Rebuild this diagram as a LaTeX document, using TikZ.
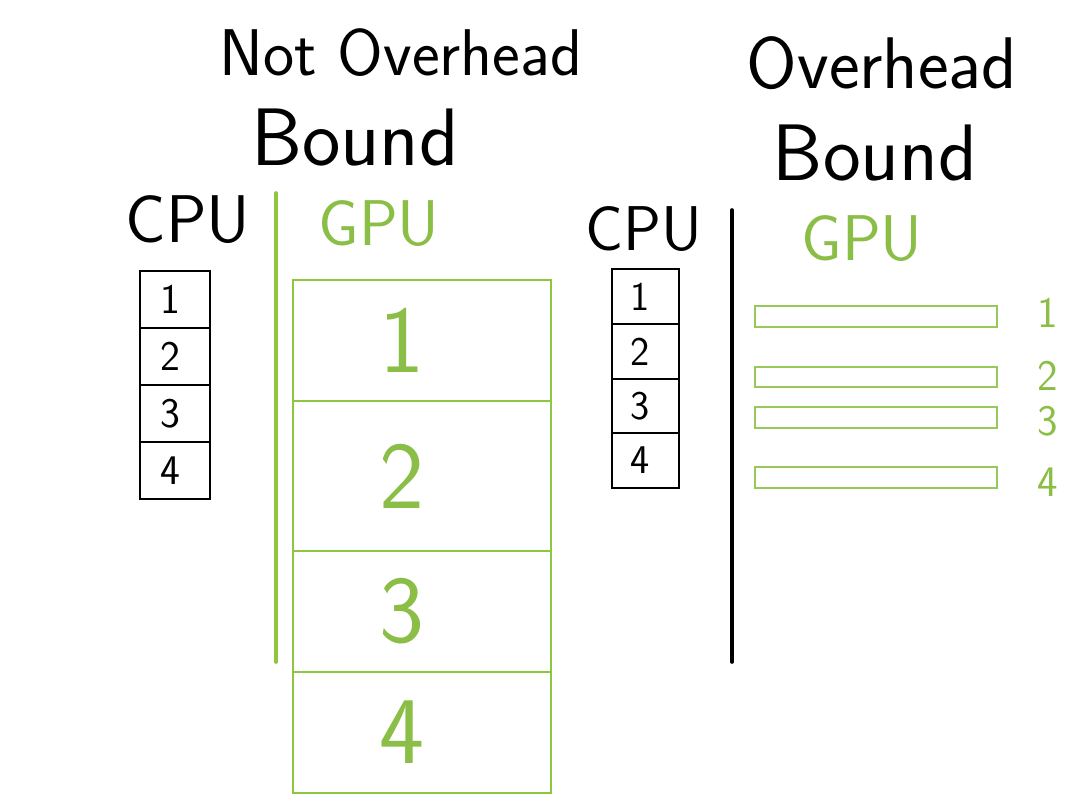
\documentclass[tikz,border=0pt]{standalone}
\usepackage{fontspec}
\usepackage{xcolor}
\definecolor{gpugreen}{RGB}{141,198,63}
\definecolor{gputext}{RGB}{138,190,70}
\definecolor{barline}{RGB}{150,200,90}

\begin{document}
\begin{tikzpicture}[x=0.25mm,y=-0.25mm,
	hand/.style={font=\sffamily\fontsize{#1}{#1}\selectfont, inner sep=0pt, anchor=base},
	cpuline/.style={draw=black, line width=1.3pt},
	gpuline/.style={draw=gpugreen, line width=1.6pt},
	barbox/.style={draw=barline, line width=1.1pt},
	divider/.style={line width=2.6pt, line cap=round}]
	\useasboundingbox (0,0) rectangle (1080,807);

	% headings
	\node[hand=47] (notoh) at (401,75) {Not Overhead};
	\node[hand=58] (notbound) at (355,165) {Bound};
	\node[hand=52] (oh) at (882,88) {Overhead};
	\node[hand=57] (ohbound) at (875,180) {Bound};

	\node[hand=48] (cpuleft) at (188,242) {CPU};
	\node[hand=46, text=gputext] (gpuleft) at (379,245) {GPU};
	\node[hand=45] (cpuright) at (644,250) {CPU};
	\node[hand=46, text=gputext] (gpuright) at (862,260) {GPU};

	% dividers
	\draw[divider, gpugreen] (276,193) -- (276,662);
	\draw[divider, black] (732,210) -- (732,662);

	% not overhead bound: cpu queue and long gpu kernels
	\foreach \i/\ya in {1/271,2/328,3/385,4/442}{
		\draw[cpuline] (140,\ya) rectangle ++(70,57);
		\node[hand=30, anchor=center] (lcpu\i) at (170,{\ya+28.5}) {\i};
	}
	\foreach \i/\ya/\yb in {1/280/401,2/401/551,3/551/672,4/672/793}{
		\draw[gpuline] (293,\ya) rectangle (551,\yb);
		\node[hand=68, anchor=center, text=gputext] (lgpu\i) at (402,{(\ya+\yb)/2}) {\i};
	}

	% overhead bound: cpu queue and short gpu kernels
	\foreach \i/\ya/\yb in {1/269/324,2/324/379,3/379/433,4/433/488}{
		\draw[cpuline] (612,\ya) rectangle (679,\yb);
		\node[hand=29, anchor=center] (rcpu\i) at (640,{(\ya+\yb)/2}) {\i};
	}
	\foreach \i/\ya/\yb/\yl in {1/306/327/313,2/367/387/376,3/407/428/421,4/467/488/482}{
		\draw[barbox] (755,\ya) rectangle (997,\yb);
		\node[hand=31, anchor=center, text=gputext] (rgpu\i) at (1048,\yl) {\i};
	}
\end{tikzpicture}
\end{document}
